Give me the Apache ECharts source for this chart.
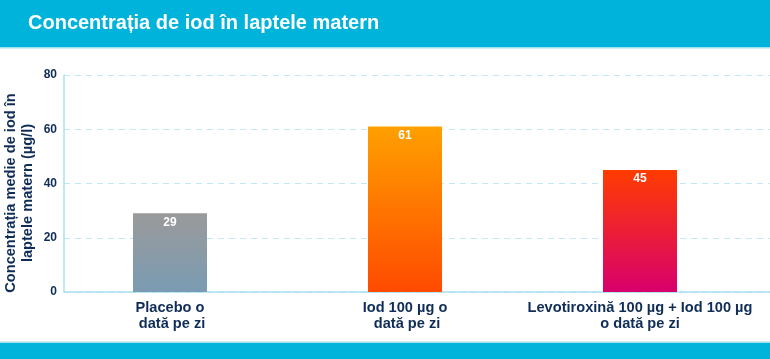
<!DOCTYPE html>
<html>
<head>
<meta charset="utf-8">
<script src="https://cdn.jsdelivr.net/npm/echarts@6/dist/echarts.min.js"></script>
<style>
html,body{margin:0;padding:0;background:#fff;}
#c{width:770px;height:359px;}
</style>
</head>
<body>
<div id="c"></div>
<script>
const title = 'Concentrația de iod în laptele matern';
const yAxisName = 'Concentrația medie de iod în\nlaptele matern (µg/l)';
const categories = ['Placebo o\n dată pe zi', 'Iod 100 µg o\n dată pe zi', 'Levotiroxină 100 µg + Iod 100 µg\no dată pe zi'];
const values = [29, 61, 45];
const yTicks = [0, 20, 40, 60, 80];
const gradients = [
  ['#9a9a9a', '#7a9bb3'],
  ['#ffa000', '#ff4a00'],
  ['#ff3c00', '#d8006c']
];

const navy = '#0f2d57';
const chart = echarts.init(document.getElementById('c'), null, {renderer: 'canvas'});
const G = echarts.graphic;

const option = {
  animation: false,
  backgroundColor: '#ffffff',
  grid: [
    {left: 52.5, right: 12.5, top: 75, bottom: 67},
    {left: 64, right: 0, top: 75, bottom: 67}
  ],
  xAxis: [
    {
      type: 'category', gridIndex: 0, data: categories,
      axisLine: {show: false}, axisTick: {show: false},
      axisLabel: {color: navy, fontFamily: 'Liberation Sans, Arial, sans-serif', fontWeight: 'bold', fontSize: 14.6, lineHeight: 16, margin: 8, interval: 0}
    },
    {
      type: 'category', gridIndex: 1, data: [''],
      axisLine: {show: true, lineStyle: {color: '#a9e0ee', width: 1.5}},
      axisTick: {show: false}, axisLabel: {show: false}
    }
  ],
  yAxis: [
    {type: 'value', gridIndex: 0, min: yTicks[0], max: yTicks[yTicks.length - 1], show: false},
    {
      type: 'value', gridIndex: 1, min: yTicks[0], max: yTicks[yTicks.length - 1], interval: yTicks[1] - yTicks[0],
      axisLine: {show: true, lineStyle: {color: '#a9e0ee', width: 1.5}},
      axisTick: {show: false},
      axisLabel: {color: navy, fontFamily: 'Liberation Sans, Arial, sans-serif', fontWeight: 'bold', fontSize: 12, margin: 7},
      splitLine: {show: true, lineStyle: {color: '#bfe9f4', type: [6, 5], width: 1}}
    }
  ],
  series: [{
    type: 'bar', xAxisIndex: 0, yAxisIndex: 0,
    barWidth: 74,
    data: values.map((v, i) => ({
      value: v,
      itemStyle: {
        color: new G.LinearGradient(0, 0, 0, 1, [
          {offset: 0, color: gradients[i][0]},
          {offset: 1, color: gradients[i][1]}
        ])
      }
    })),
    label: {
      show: true, position: 'insideTop', distance: 3,
      color: '#ffffff', fontFamily: 'Liberation Sans, Arial, sans-serif', fontWeight: 'bold', fontSize: 12
    }
  }],
  graphic: [
    {type: 'rect', left: 0, top: 0, shape: {width: 770, height: 47}, style: {fill: '#00b3da'}, z: 0},
    {type: 'rect', left: 0, top: 47, shape: {width: 770, height: 1.5}, style: {fill: '#9fdff0'}, z: 0},
    {type: 'text', left: 28, top: 13, style: {text: title, fill: '#ffffff', font: 'bold 20px "Liberation Sans", Arial, sans-serif'}, z: 10},
    {type: 'rect', left: 0, top: 341.5, shape: {width: 770, height: 1.5}, style: {fill: '#9fdff0'}, z: 0},
    {type: 'rect', left: 0, top: 343, shape: {width: 770, height: 16}, style: {fill: '#00b3da'}, z: 0},
    {
      type: 'text', x: 19, y: 193, rotation: Math.PI / 2,
      style: {text: yAxisName, fill: navy, font: 'bold 14.6px "Liberation Sans", Arial, sans-serif', align: 'center', verticalAlign: 'middle', lineHeight: 17},
      z: 10
    }
  ]
};
chart.setOption(option);
</script>
</body>
</html>
